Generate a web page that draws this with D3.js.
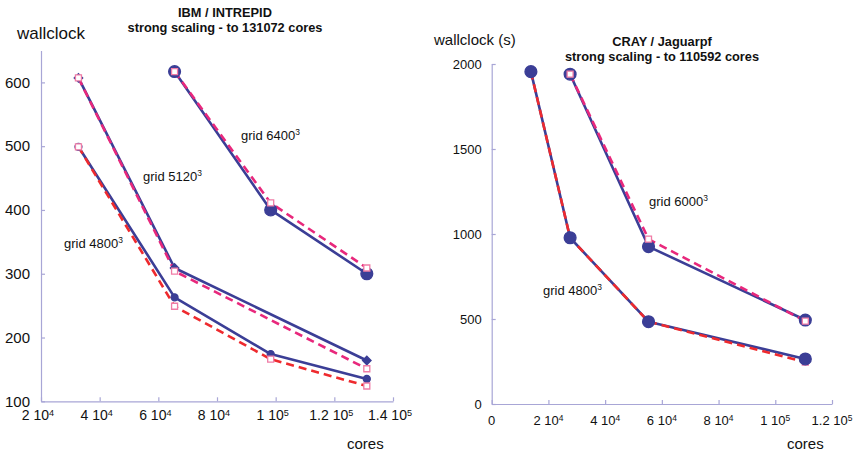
<!DOCTYPE html>
<html><head><meta charset="utf-8">
<script src="https://cdn.jsdelivr.net/npm/d3@7/dist/d3.min.js"></script>
<style>
body{margin:0;background:#fff;}
svg{display:block;font-family:"Liberation Sans",Arial,Helvetica,sans-serif;}
</style></head>
<body>
<svg id="chart" width="854" height="453"></svg>
<script>
// ---------- DATA ----------
// Left: IBM / INTREPID
const intrepidCores4800 = [32768, 65536, 98304, 131072];
const intrepid4800Solid = [499, 263, 174, 135];
const intrepid4800Dash  = [499, 249, 166, 124];
const intrepidCores5120 = [32768, 65536, 131072];
const intrepid5120Solid = [607, 309, 164];
const intrepid5120Dash  = [607, 304, 151];
const intrepidCores6400 = [65536, 98304, 131072];
const intrepid6400Solid = [617, 400, 300];
const intrepid6400Dash  = [617, 411, 309];
const leftXTicks = [20000, 40000, 60000, 80000, 100000, 120000, 140000];
const leftXTickLabels = [["2 10","4"],["4 10","4"],["6 10","4"],["8 10","4"],["1 10","5"],["1.2 10","5"],["1.4 10","5"]];
const leftYTicks = [100, 200, 300, 400, 500, 600];

// Right: CRAY / Jaguarpf
const jaguarCores4800 = [13824, 27648, 55296, 110592];
const jaguar4800Solid = [1955, 978, 484, 265];
const jaguar4800Dash  = [1955, 978, 484, 246];
const jaguarCores6000 = [27648, 55296, 110592];
const jaguar6000Solid = [1940, 926, 494];
const jaguar6000Dash  = [1940, 970, 488];
const rightXTicks = [0, 20000, 40000, 60000, 80000, 100000, 120000];
const rightXTickLabels = [["0",""],["2 10","4"],["4 10","4"],["6 10","4"],["8 10","4"],["1 10","5"],["1.2 10","5"]];
const rightYTicks = [0, 500, 1000, 1500, 2000];

// ---------- STYLE ----------
const BLUE = "#3b3e96", MAGENTA = "#e8287c", RED = "#ee2a2e", SQ = "#f07ca6", AXIS = "#a8a6d6";

const svg = d3.select("#chart");

function pts(xs, ys){ return xs.map((x,i)=>[x, ys[i]]); }

function drawAxes(g, x, y, xTicks, xLabels, yTicks, opt){
  const [x0,x1] = x.range(), [y0,y1] = y.range();
  const ya = d3.axisLeft(y).tickValues(yTicks).tickSizeInner(-4).tickSizeOuter(0).tickPadding(opt.yPad).tickFormat(d3.format("d"));
  const yg = g.append("g").attr("transform",`translate(${x0},0)`).call(ya);
  yg.select(".domain").attr("stroke",AXIS).attr("stroke-width",1.2);
  yg.selectAll(".tick line").attr("stroke",AXIS).attr("stroke-width",1.2);
  yg.selectAll(".tick text").attr("fill","#111").attr("font-size",opt.yFont).attr("font-family",null).attr("dy",opt.yDy);
  const xa = d3.axisBottom(x).tickValues(xTicks).tickSizeInner(-4).tickSizeOuter(0).tickFormat(()=>"");
  const xg = g.append("g").attr("transform",`translate(0,${y0})`).call(xa);
  xg.select(".domain").attr("stroke",AXIS).attr("stroke-width",1.2);
  xg.selectAll(".tick line").attr("stroke",AXIS).attr("stroke-width",1.2);
  xg.selectAll(".tick text").remove();
  xTicks.forEach((v,i)=>{
    const t = g.append("text").attr("x", x(v)+opt.xDx).attr("y", y0+opt.xBase)
      .attr("text-anchor","middle").attr("font-size",opt.xFont).attr("fill","#111");
    t.append("tspan").text(xLabels[i][0]);
    if (xLabels[i][1]) t.append("tspan").attr("dy","-0.5em").attr("font-size","0.65em").text(xLabels[i][1]);
  });
}

function line(g, x, y, data, color, dashed){
  g.append("path").datum(data)
    .attr("d", d3.line().x(d=>x(d[0])).y(d=>y(d[1])))
    .attr("fill","none").attr("stroke",color).attr("stroke-width",2.6)
    .attr("stroke-dasharray", dashed ? "8,5" : null).attr("stroke-linejoin","round");
}
function markers(g, x, y, data, type, size, color, fill, rot){
  g.selectAll(null).data(data).enter().append("path")
    .attr("transform", d=>`translate(${x(d[0])},${y(d[1])})` + (rot ? ` rotate(${rot})` : ""))
    .attr("d", d3.symbol().type(type).size(size))
    .attr("fill", fill).attr("stroke", color).attr("stroke-width", 1.3);
}

function sup(g, xp, yp, base, exp, size){
  const t = g.append("text").attr("x",xp).attr("y",yp).attr("font-size",size).attr("fill","#111");
  t.append("tspan").text(base);
  t.append("tspan").attr("dy","-0.55em").attr("font-size","0.65em").text(exp);
}

function title(g, cx, l1, l2){
  g.append("text").attr("x",cx).attr("y",l1.y).attr("text-anchor","middle").attr("font-size",12.8).attr("font-weight","bold").attr("fill","#111").text(l1.t);
  g.append("text").attr("x",cx).attr("y",l2.y).attr("text-anchor","middle").attr("font-size",12.8).attr("font-weight","bold").attr("fill","#111").text(l2.t);
}

// ---------- LEFT CHART ----------
{
  const g = svg.append("g");
  const x = d3.scaleLinear().domain([20000,140000]).range([41,393]);
  const y = d3.scaleLinear().domain([100,650]).range([401.3,50.5]);
  drawAxes(g, x, y, leftXTicks, leftXTickLabels, leftYTicks,
    {yPad:11, yFont:15, yDy:"0.32em", xFont:14, xBase:19, xDx:-3});

  const s48 = pts(intrepidCores4800, intrepid4800Solid), d48 = pts(intrepidCores4800, intrepid4800Dash);
  const s51 = pts(intrepidCores5120, intrepid5120Solid), d51 = pts(intrepidCores5120, intrepid5120Dash);
  const s64 = pts(intrepidCores6400, intrepid6400Solid), d64 = pts(intrepidCores6400, intrepid6400Dash);

  line(g,x,y,s48,BLUE,false); line(g,x,y,s51,BLUE,false); line(g,x,y,s64,BLUE,false);
  line(g,x,y,d48,RED,true); line(g,x,y,d51,MAGENTA,true); line(g,x,y,d64,MAGENTA,true);

  markers(g,x,y,s48,d3.symbolCircle,38,BLUE,BLUE);
  markers(g,x,y,s51,d3.symbolSquare,36,BLUE,BLUE,45);
  markers(g,x,y,s64,d3.symbolCircle,110,BLUE,BLUE);
  markers(g,x,y,d48,d3.symbolSquare,36,SQ,"#fff");
  markers(g,x,y,d51,d3.symbolSquare,36,SQ,"#fff");
  markers(g,x,y,d64,d3.symbolSquare,36,SQ,"#fff");

  sup(g, 241, 140, "grid 6400", "3", 13);
  sup(g, 143, 181, "grid 5120", "3", 13);
  sup(g, 64, 248, "grid 4800", "3", 13);

  g.append("text").attr("x",17).attr("y",39).attr("font-size",17).attr("fill","#111").text("wallclock");
  title(g, 225, {y:17, t:"IBM / INTREPID"}, {y:31.5, t:"strong scaling - to 131072 cores"});
  g.append("text").attr("x",347).attr("y",449).attr("font-size",15).attr("fill","#111").text("cores");
}

// ---------- RIGHT CHART ----------
{
  const g = svg.append("g");
  const x = d3.scaleLinear().domain([0,120000]).range([491.7,832]);
  const y = d3.scaleLinear().domain([0,2000]).range([404,64]);
  drawAxes(g, x, y, rightXTicks, rightXTickLabels, rightYTicks,
    {yPad:10, yFont:13, yDy:"0.32em", xFont:13, xBase:21, xDx:0});

  const s48 = pts(jaguarCores4800, jaguar4800Solid), d48 = pts(jaguarCores4800, jaguar4800Dash);
  const s60 = pts(jaguarCores6000, jaguar6000Solid), d60 = pts(jaguarCores6000, jaguar6000Dash);

  line(g,x,y,s48,BLUE,false); line(g,x,y,s60,BLUE,false);
  line(g,x,y,d48,RED,true); line(g,x,y,d60,MAGENTA,true);

  markers(g,x,y,d48,d3.symbolSquare,36,SQ,"#fff");
  markers(g,x,y,s48,d3.symbolCircle,110,BLUE,BLUE);
  markers(g,x,y,s60,d3.symbolCircle,110,BLUE,BLUE);
  markers(g,x,y,d60,d3.symbolSquare,36,SQ,"#fff");

  sup(g, 649, 206, "grid 6000", "3", 13);
  sup(g, 543, 295, "grid 4800", "3", 13);

  g.append("text").attr("x",434).attr("y",45).attr("font-size",15).attr("fill","#111").text("wallclock (s)");
  title(g, 662, {y:46, t:"CRAY / Jaguarpf"}, {y:60.5, t:"strong scaling - to 110592 cores"});
  g.append("text").attr("x",787).attr("y",449).attr("font-size",15).attr("fill","#111").text("cores");
}
</script>
</body></html>
